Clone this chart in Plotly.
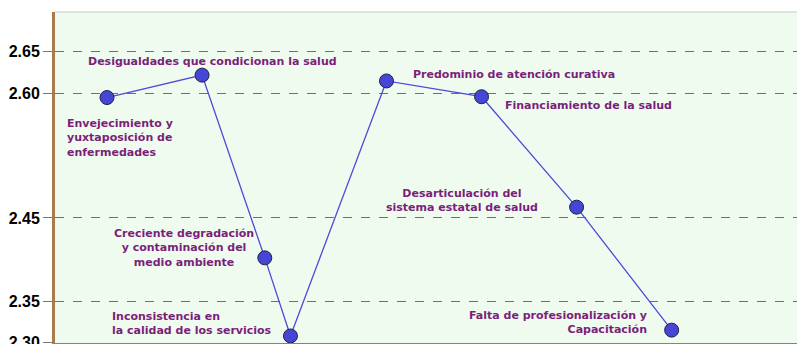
import plotly.graph_objects as go

# Data
labels = [
    "Envejecimiento y<br>yuxtaposición de<br>enfermedades",
    "Desigualdades que condicionan la salud",
    "Creciente degradación<br>y contaminación del<br>medio ambiente",
    "Inconsistencia en<br>la calidad de los servicios",
    "Predominio de atención curativa",
    "Financiamiento de la salud",
    "Desarticulación del<br>sistema estatal de salud",
    "Falta de profesionalización y<br>Capacitación",
]
x_pos = [1.0, 2.0, 2.66, 2.93, 3.94, 4.94, 5.94, 6.94]
values = [2.595, 2.622, 2.402, 2.308, 2.615, 2.596, 2.463, 2.315]
tick_vals = [2.30, 2.35, 2.45, 2.60, 2.65]
tick_text = ["2.30", "2.35", "2.45", "2.60", "2.65"]

# label placement (pixel offsets from each point)
label_style = [
    dict(xanchor="left", yanchor="top", xshift=-42, yshift=-17, align="left"),
    dict(xanchor="center", yanchor="middle", xshift=10, yshift=14, align="center"),
    dict(xanchor="center", yanchor="middle", xshift=-81, yshift=10, align="center"),
    dict(xanchor="left", yanchor="middle", xshift=-180, yshift=12, align="left"),
    dict(xanchor="left", yanchor="middle", xshift=25, yshift=6, align="left"),
    dict(xanchor="left", yanchor="middle", xshift=21, yshift=-9, align="left"),
    dict(xanchor="center", yanchor="middle", xshift=-115, yshift=7, align="center"),
    dict(xanchor="right", yanchor="middle", xshift=-23, yshift=8, align="right"),
]

label_font = dict(family="DejaVu Sans, Verdana, sans-serif", size=11, color="#7b1f7b")

fig = go.Figure()
fig.add_trace(go.Scatter(
    x=x_pos, y=values, mode="lines+markers",
    line=dict(color="#4b4bd9", width=1.3),
    marker=dict(size=14, color="#4646d6", line=dict(color="#222244", width=1)),
    showlegend=False, hoverinfo="skip", cliponaxis=False,
))

for xv, yv, txt, st in zip(x_pos, values, labels, label_style):
    fig.add_annotation(
        x=xv, y=yv, text="<b>" + txt + "</b>", showarrow=False,
        font=label_font, **st,
    )

fig.add_shape(type="line", xref="paper", yref="paper", x0=0, x1=1, y0=1, y1=1,
              line=dict(color="#d8d8d8", width=1.5))

fig.update_layout(
    width=805, height=344,
    margin=dict(l=47, r=13, t=4, b=9),
    paper_bgcolor="white",
    plot_bgcolor="#f0fbf0",
    xaxis=dict(range=[0.453, 8.29], showgrid=False, zeroline=False,
               showticklabels=False, ticks="", automargin=False,
               showline=True, linecolor="#a97a4a", linewidth=3),
    yaxis=dict(range=[2.2995, 2.698], tickvals=tick_vals, ticktext=tick_text,
               showgrid=True, gridcolor="#6f6f6f", griddash="dash", gridwidth=1,
               zeroline=False, ticks="outside", ticklen=9, tickcolor="#777777",
               automargin=False,
               tickfont=dict(family="Arial, Liberation Sans, sans-serif", size=16,
                             color="black", weight="bold"),
               showline=True, linecolor="#a97a4a", linewidth=3),
)

fig.write_html("out.html")
